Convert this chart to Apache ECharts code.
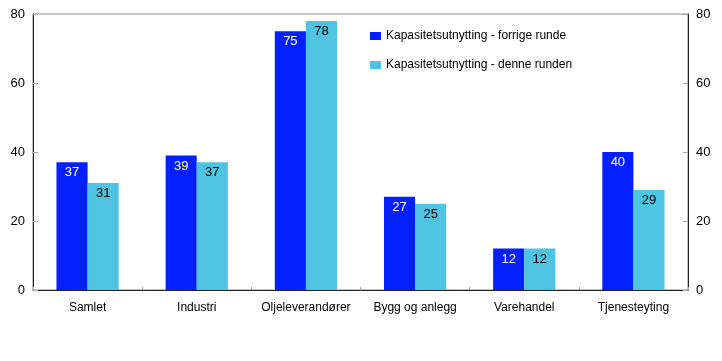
<!DOCTYPE html>
<html><head><meta charset="utf-8">
<script src="https://cdn.jsdelivr.net/npm/echarts@6/dist/echarts.min.js"></script>
<style>html,body{margin:0;padding:0;background:#fff}#c{width:722px;height:361px}</style>
</head><body><div id="c"></div>
<script>
const categories = ['Samlet','Industri','Oljeleverandører','Bygg og anlegg','Varehandel','Tjenesteyting'];
const forrige = [37,39,75,27,12,40];
const denne = [31,37,78,25,12,29];
const seriesNames = ['Kapasitetsutnytting - forrige runde','Kapasitetsutnytting - denne runden'];
const yTicks = {min:0,max:80,interval:20};
const font = 'Liberation Sans, Arial, sans-serif';
const chart = echarts.init(document.getElementById('c'));
const yAxisBase = pos => ({
  type:'value', position:pos, min:yTicks.min, max:yTicks.max, interval:yTicks.interval,
  axisLine:{show:true,lineStyle:{color:'#222',width:1}},
  axisTick:{show:true,inside:true,length:5,lineStyle:{color:'#aaa'}},
  axisLabel:{color:'#000',fontSize:13,fontFamily:font,margin:8},
  splitLine:{show:false}
});
chart.setOption({
  animation:false,
  grid:{left:33,right:34,top:14,bottom:71,show:true,borderColor:'#888',borderWidth:1},
  legend:{orient:'vertical',left:365,top:25,itemGap:17,itemWidth:11,itemHeight:8,
    icon:'rect',textStyle:{fontSize:12,fontFamily:font,color:'#000'},data:seriesNames},
  xAxis:{type:'category',data:categories,
    axisLine:{lineStyle:{color:'#222'}},
    axisTick:{show:true,inside:true,length:3,lineStyle:{color:'#aaa'}},
    axisLabel:{interval:0,color:'#000',fontSize:12,fontFamily:font,margin:12}},
  yAxis:[yAxisBase('left'),yAxisBase('right')],
  series:[
    {name:seriesNames[0],type:'bar',data:forrige,barCategoryGap:'43%',barGap:'0%',
     itemStyle:{color:'#0520FF'},
     label:{show:true,position:'insideTop',distance:4,color:'#fff',fontSize:13,fontFamily:font}},
    {name:seriesNames[1],type:'bar',data:denne,barCategoryGap:'43%',barGap:'0%',
     itemStyle:{color:'#4EC3E2'},
     label:{show:true,position:'insideTop',distance:4,color:'#000',fontSize:13,fontFamily:font}}
  ]
});
</script></body></html>
